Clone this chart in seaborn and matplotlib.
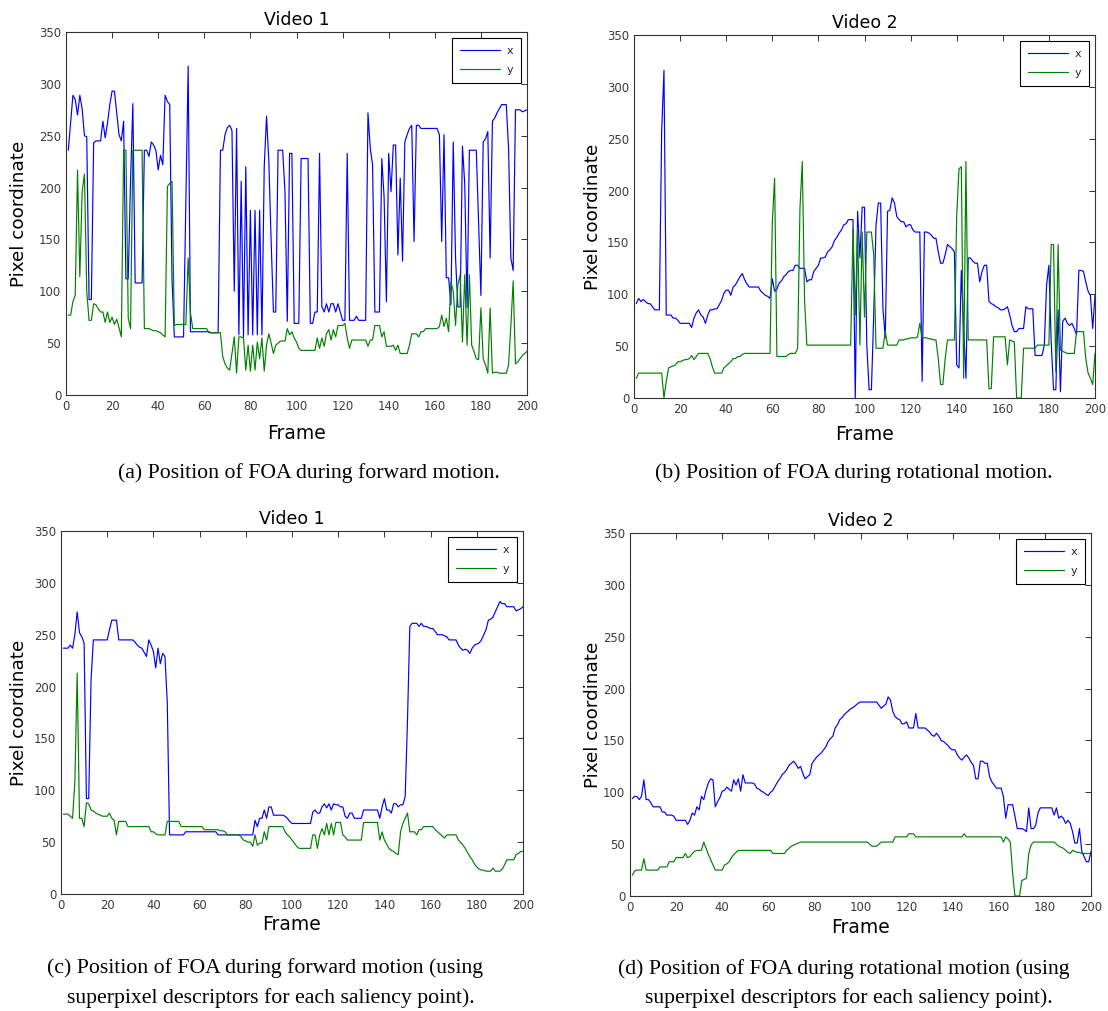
import numpy as np
import pandas as pd
import matplotlib
matplotlib.use("Agg")
import matplotlib.pyplot as plt
import seaborn as sns

sns.set_theme(style="white")
plt.rcParams['font.family'] = ['DejaVu Sans']

# ---------------- data (frames 1..200) ----------------
a_x = [236, 262, 289, 285, 270, 289, 276, 250, 249, 92,
       92, 243, 245, 245, 245, 264, 248, 262, 280, 293,
       293, 272, 251, 245, 264, 112, 112, 207, 281, 108,
       108, 108, 108, 236, 236, 230, 244, 241, 236, 217,
       231, 222, 289, 283, 280, 111, 56, 56, 56, 56,
       56, 186, 317, 61, 61, 61, 61, 61, 61, 61,
       61, 61, 60, 60, 60, 60, 236, 236, 251, 258,
       260, 255, 100, 257, 58, 206, 56, 220, 58, 178,
       58, 178, 58, 178, 58, 220, 269, 225, 148, 80,
       80, 236, 236, 236, 196, 71, 233, 233, 69, 69,
       69, 228, 228, 228, 228, 69, 69, 80, 80, 233,
       85, 80, 88, 80, 88, 88, 80, 88, 80, 72,
       72, 233, 72, 72, 72, 76, 72, 72, 72, 72,
       272, 238, 222, 80, 80, 80, 228, 191, 90, 233,
       196, 241, 241, 135, 209, 129, 244, 251, 257, 260,
       148, 260, 260, 257, 257, 257, 257, 257, 257, 257,
       257, 251, 148, 251, 113, 113, 87, 244, 132, 85,
       85, 240, 203, 84, 236, 236, 236, 236, 167, 96,
       244, 247, 254, 132, 264, 267, 272, 276, 280, 280,
       280, 238, 132, 120, 275, 275, 275, 273, 274, 275]
a_y = [77, 77, 90, 96, 217, 114, 196, 213, 100, 72,
       72, 88, 87, 83, 80, 80, 70, 80, 70, 75,
       68, 73, 65, 56, 236, 236, 74, 64, 236, 236,
       236, 236, 236, 64, 64, 64, 63, 62, 62, 61,
       60, 58, 56, 201, 204, 206, 67, 68, 68, 68,
       68, 68, 132, 79, 64, 64, 64, 64, 64, 64,
       64, 60, 60, 60, 60, 60, 60, 37, 30, 26,
       24, 40, 56, 21, 56, 56, 55, 24, 48, 23,
       48, 24, 51, 35, 55, 23, 48, 59, 50, 40,
       48, 50, 52, 52, 52, 64, 58, 61, 55, 51,
       45, 43, 43, 43, 43, 43, 43, 43, 55, 45,
       55, 47, 59, 63, 53, 63, 56, 67, 67, 67,
       69, 55, 45, 53, 53, 53, 53, 53, 53, 53,
       47, 53, 53, 67, 67, 67, 56, 61, 47, 47,
       47, 48, 43, 48, 40, 40, 40, 40, 48, 59,
       59, 59, 56, 61, 61, 64, 64, 64, 64, 64,
       64, 66, 77, 66, 74, 61, 109, 100, 67, 106,
       116, 51, 116, 48, 116, 48, 42, 35, 34, 84,
       35, 29, 21, 84, 21, 22, 22, 21, 21, 21,
       21, 29, 67, 110, 30, 32, 35, 38, 40, 42]

b_x = [91, 96, 93, 95, 93, 91, 91, 88, 85, 85,
       85, 257, 316, 80, 80, 80, 77, 77, 75, 72,
       72, 72, 72, 72, 68, 77, 82, 85, 80, 78,
       72, 80, 85, 85, 86, 86, 90, 94, 101, 104,
       104, 99, 107, 109, 113, 117, 120, 114, 110, 107,
       107, 107, 107, 107, 103, 101, 99, 98, 96, 115,
       103, 105, 111, 113, 117, 119, 122, 123, 123, 128,
       128, 125, 125, 125, 112, 114, 114, 122, 125, 128,
       135, 135, 136, 141, 143, 146, 152, 155, 159, 162,
       167, 168, 172, 172, 172, 0, 180, 135, 184, 184,
       51, 8, 8, 80, 167, 188, 188, 86, 58, 180,
       181, 193, 188, 175, 172, 170, 170, 165, 167, 167,
       162, 160, 160, 160, 16, 160, 160, 159, 157, 154,
       154, 141, 130, 130, 138, 148, 146, 144, 141, 32,
       29, 123, 67, 19, 135, 135, 132, 130, 130, 112,
       122, 128, 128, 93, 91, 90, 88, 87, 85, 85,
       86, 88, 80, 70, 64, 64, 67, 67, 67, 88,
       86, 86, 86, 41, 41, 41, 41, 51, 109, 128,
       54, 8, 8, 85, 6, 74, 77, 72, 70, 72,
       67, 61, 123, 123, 122, 112, 103, 99, 67, 99]
b_y = [19, 24, 24, 24, 24, 24, 24, 24, 24, 24,
       24, 24, 0, 16, 29, 30, 31, 32, 35, 35,
       36, 37, 37, 38, 41, 37, 40, 43, 43, 43,
       43, 43, 38, 30, 24, 24, 24, 24, 29, 31,
       33, 35, 38, 38, 40, 40, 42, 43, 43, 43,
       43, 43, 43, 43, 43, 43, 43, 43, 43, 169,
       212, 40, 40, 40, 40, 40, 42, 43, 43, 43,
       48, 183, 228, 94, 51, 51, 51, 51, 51, 51,
       51, 51, 51, 51, 51, 51, 51, 51, 51, 51,
       51, 51, 51, 51, 164, 80, 164, 51, 160, 78,
       160, 160, 160, 138, 48, 48, 48, 48, 64, 51,
       51, 51, 51, 51, 56, 56, 56, 57, 57, 58,
       58, 58, 59, 72, 58, 58, 58, 57, 57, 56,
       56, 38, 13, 13, 38, 56, 56, 56, 56, 176,
       221, 223, 19, 228, 56, 56, 56, 56, 56, 56,
       56, 56, 56, 9, 9, 59, 59, 59, 59, 59,
       59, 32, 56, 55, 54, 0, 0, 0, 48, 48,
       48, 48, 48, 48, 51, 51, 51, 51, 51, 51,
       148, 148, 25, 148, 46, 45, 44, 43, 43, 43,
       43, 64, 64, 64, 64, 38, 24, 19, 13, 43]

c_x = [237, 237, 237, 240, 237, 250, 272, 252, 248, 242,
       92, 92, 206, 245, 245, 245, 245, 245, 245, 245,
       255, 264, 264, 264, 245, 245, 245, 245, 245, 245,
       245, 243, 240, 238, 237, 233, 229, 245, 240, 234,
       218, 237, 222, 232, 229, 185, 57, 57, 57, 57,
       57, 57, 57, 60, 60, 60, 60, 60, 60, 60,
       60, 60, 60, 60, 60, 60, 60, 57, 57, 57,
       57, 57, 57, 57, 57, 57, 57, 57, 57, 57,
       57, 57, 57, 71, 65, 73, 73, 81, 73, 84,
       84, 76, 76, 76, 76, 76, 75, 73, 70, 68,
       68, 68, 68, 68, 68, 68, 68, 68, 79, 81,
       78, 78, 84, 87, 83, 87, 81, 87, 86, 86,
       84, 84, 75, 73, 78, 78, 73, 73, 73, 73,
       81, 81, 81, 81, 81, 81, 81, 73, 84, 92,
       81, 81, 78, 87, 87, 84, 86, 86, 94, 168,
       258, 261, 261, 261, 258, 261, 258, 258, 257, 256,
       256, 253, 250, 250, 250, 249, 248, 245, 245, 245,
       245, 240, 237, 235, 236, 235, 232, 237, 240, 241,
       242, 245, 250, 255, 264, 265, 267, 272, 277, 282,
       280, 280, 277, 277, 277, 277, 273, 274, 275, 277]
c_y = [77, 77, 77, 75, 73, 108, 213, 73, 73, 65,
       88, 87, 81, 80, 78, 77, 76, 75, 75, 75,
       78, 73, 71, 57, 70, 70, 70, 70, 65, 65,
       65, 65, 65, 65, 65, 65, 65, 65, 60, 60,
       58, 57, 57, 57, 57, 70, 70, 70, 70, 70,
       70, 65, 65, 65, 65, 65, 65, 65, 65, 65,
       65, 62, 62, 62, 62, 62, 62, 62, 61, 61,
       60, 57, 57, 57, 57, 57, 57, 55, 52, 51,
       50, 50, 46, 57, 47, 49, 49, 60, 52, 65,
       65, 65, 65, 65, 65, 65, 60, 57, 55, 52,
       49, 46, 44, 44, 44, 44, 44, 44, 57, 57,
       44, 57, 63, 57, 68, 57, 68, 57, 69, 69,
       69, 57, 55, 52, 52, 52, 52, 52, 52, 52,
       69, 69, 69, 69, 69, 69, 69, 52, 60, 52,
       48, 44, 42, 41, 39, 38, 60, 68, 73, 78,
       60, 60, 60, 57, 62, 62, 65, 65, 65, 65,
       65, 62, 60, 58, 56, 54, 57, 57, 57, 57,
       57, 52, 50, 47, 44, 40, 36, 33, 29, 26,
       24, 23, 23, 22, 22, 22, 25, 22, 22, 22,
       24, 28, 33, 33, 33, 33, 38, 39, 41, 41]

d_x = [94, 96, 96, 93, 96, 112, 93, 93, 90, 86,
       86, 86, 86, 81, 81, 78, 78, 78, 77, 73,
       73, 73, 73, 73, 69, 73, 80, 78, 86, 83,
       96, 93, 102, 109, 113, 112, 86, 91, 95, 101,
       102, 105, 103, 101, 112, 107, 113, 101, 117, 109,
       109, 109, 109, 108, 104, 103, 101, 100, 98, 97,
       100, 102, 106, 110, 113, 117, 119, 122, 126, 128,
       130, 127, 123, 125, 118, 113, 115, 117, 128, 131,
       134, 136, 138, 141, 144, 149, 152, 154, 162, 165,
       170, 172, 175, 177, 179, 181, 182, 184, 186, 187,
       187, 187, 187, 187, 187, 187, 187, 184, 181, 183,
       185, 192, 189, 178, 173, 171, 170, 166, 166, 168,
       162, 162, 162, 176, 162, 162, 162, 162, 160, 158,
       155, 154, 157, 154, 150, 149, 147, 145, 142, 141,
       141, 136, 133, 131, 134, 136, 133, 129, 126, 113,
       113, 130, 130, 128, 128, 115, 110, 107, 104, 104,
       104, 96, 75, 88, 88, 88, 77, 65, 65, 65,
       64, 62, 85, 65, 65, 68, 80, 85, 85, 85,
       85, 85, 85, 78, 85, 75, 77, 75, 70, 73,
       70, 62, 51, 51, 65, 43, 38, 33, 33, 43]
d_y = [20, 24, 25, 25, 25, 36, 25, 25, 25, 25,
       25, 25, 28, 28, 28, 28, 33, 33, 33, 37,
       37, 37, 37, 41, 37, 38, 41, 43, 44, 44,
       44, 52, 46, 40, 35, 30, 25, 25, 25, 25,
       30, 31, 33, 37, 40, 42, 44, 44, 44, 44,
       44, 44, 44, 44, 44, 44, 44, 44, 44, 44,
       44, 41, 41, 41, 41, 41, 41, 44, 46, 48,
       49, 50, 51, 52, 52, 52, 52, 52, 52, 52,
       52, 52, 52, 52, 52, 52, 52, 52, 52, 52,
       52, 52, 52, 52, 52, 52, 52, 52, 52, 52,
       52, 52, 52, 50, 48, 48, 48, 50, 52, 52,
       52, 52, 52, 52, 57, 57, 57, 57, 57, 57,
       60, 60, 60, 57, 57, 57, 57, 57, 57, 57,
       57, 57, 57, 57, 57, 57, 57, 57, 57, 57,
       57, 57, 57, 57, 60, 57, 57, 57, 57, 57,
       57, 57, 57, 57, 57, 57, 57, 57, 57, 57,
       57, 52, 57, 55, 52, 22, 0, 0, 0, 15,
       16, 17, 41, 49, 52, 52, 52, 52, 52, 52,
       52, 52, 52, 52, 50, 48, 47, 46, 44, 42,
       41, 44, 43, 42, 42, 41, 41, 41, 41, 41]

frames = np.arange(1, 201)
titles = ["Video 1", "Video 2", "Video 1", "Video 2"]
x_ticks = list(range(0, 201, 20))
y_ticks = list(range(0, 351, 50))
series_names = ["x", "y"]
colors = {"x": "#0000ff", "y": "#008000"}

captions = [
    ["(a) Position of FOA during forward motion."],
    ["(b) Position of FOA during rotational motion."],
    ["(c) Position of FOA during forward motion (using",
     "superpixel descriptors for each saliency point)."],
    ["(d) Position of FOA during rotational motion (using",
     "superpixel descriptors for each saliency point)."],
]

# ---------------- layout (pixels) ----------------
W, H = 1108, 1011
boxes = [(66, 32, 527, 395), (634, 35, 1095, 398),
         (61, 531, 523, 894), (630, 533, 1091, 896)]
ylab_x = [28, 602, 28, 602]
xlab_top = [424, 425, 915, 918]
caption_pos = [[(118, 473)], [(655, 473)],
               [(47, 968), (67, 998)], [(618, 969), (645, 998)]]

fig = plt.figure(figsize=(W / 100, H / 100), dpi=100)
fig.patch.set_facecolor("white")

panels = [(a_x, a_y), (b_x, b_y), (c_x, c_y), (d_x, d_y)]
for i, ((sx, sy), (l, t, r, b)) in enumerate(zip(panels, boxes)):
    assert len(sx) == 200 and len(sy) == 200
    ax = fig.add_axes([l / W, 1 - b / H, (r - l) / W, (b - t) / H])
    df = pd.DataFrame({"Frame": np.concatenate([frames, frames]),
                       "value": np.concatenate([sx, sy]),
                       "series": ["x"] * 200 + ["y"] * 200})
    sns.lineplot(data=df, x="Frame", y="value", hue="series",
                 palette=colors, hue_order=series_names, ax=ax,
                 linewidth=0.85, estimator=None, sort=False)
    ax.set_xlim(0, 200)
    ax.set_ylim(0, 350)
    ax.set_xticks(x_ticks)
    ax.set_yticks(y_ticks)
    ax.tick_params(direction="in", length=4, width=0.7, top=True, right=True,
                   labelsize=8.4, labelcolor="#3a3a3a", color="#333333", pad=3.5)
    for sp in ax.spines.values():
        sp.set_visible(True)
        sp.set_color("#333333")
        sp.set_linewidth(0.8)
    ax.set_title(titles[i], fontsize=12.5, pad=5, color="black")
    ax.set_xlabel("Frame", fontsize=13.5, color="black")
    ax.set_ylabel("Pixel coordinate", fontsize=13.2, color="black")
    ax.yaxis.set_label_coords((ylab_x[i] - l) / (r - l), 0.5)
    ax.xaxis.set_label_coords(0.5, -(xlab_top[i] - b) / (b - t))
    ax.grid(False)
    leg = ax.legend(loc="upper right", frameon=True, fancybox=False,
                    edgecolor="black", fontsize=8, handlelength=3.6,
                    borderaxespad=0.5, labelspacing=0.82, framealpha=1,
                    title=None, borderpad=0.72, handletextpad=0.6)
    leg.get_frame().set_linewidth(0.8)
    for (cx, cy), line in zip(caption_pos[i], captions[i]):
        fig.text(cx / W, 1 - cy / H, line, ha="left", va="center",
                 fontsize=15.7, family="Liberation Serif", color="black")

fig.savefig("out.png", dpi=100, facecolor="white")
